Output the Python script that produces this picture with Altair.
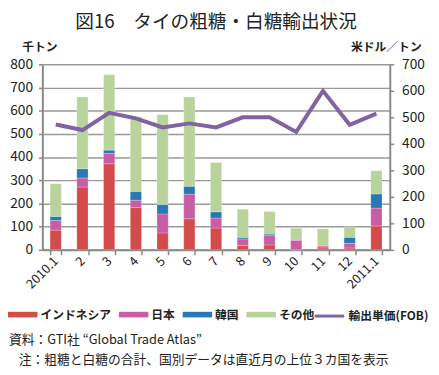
import altair as alt
import pandas as pd

months = ["2010.1", "2", "3", "4", "5", "6", "7", "8", "9", "10", "11", "12", "2011.1"]
indonesia = [85, 271, 371, 183, 73, 134, 94, 18, 21, 0, 8, 8, 103]
japan = [42, 39, 45, 31, 82, 106, 43, 29, 42, 42, 9, 20, 77]
korea = [17, 40, 14, 38, 40, 34, 27, 7, 5, 0, 0, 26, 61]
others = [141, 309, 325, 322, 388, 385, 213, 121, 97, 51, 73, 45, 100]
price = [473, 452, 517, 496, 462, 477, 462, 500, 500, 445, 600, 472, 514]

series_names = ["インドネシア", "日本", "韓国", "その他"]
series_colors = ["#d34b4b", "#c95ca5", "#2878b5", "#b8d49a"]
line_name = "輸出単価(FOB)"
line_color = "#8064a2"
note_source = "資料：GTI社 “Global Trade Atlas”"
note_remark = "注：粗糖と白糖の合計、国別データは直近月の上位３カ国を表示"

rows = []
for i, m in enumerate(months):
    for k, (name, vals) in enumerate(zip(series_names, [indonesia, japan, korea, others])):
        rows.append({"month": m, "series": name, "value": vals[i], "ord": k})
bars_df = pd.DataFrame(rows)
line_df = pd.DataFrame({"month": months, "price": price, "series": [line_name] * len(months)})

FONT = "Noto Sans CJK JP"
rect_path = "M-1,-0.19H1V0.19H-1Z"

x_enc = alt.X("month:N", sort=months, title=None,
              scale=alt.Scale(paddingInner=0.58, paddingOuter=0.29),
              axis=alt.Axis(labelAngle=-45, labelAlign="right", labelBaseline="middle",
                            labelFontSize=13, labelColor="#222", labelFont=FONT,
                            tickBand="extent", tickSize=5, tickColor="#888", tickWidth=1.5,
                            domainColor="#888", domainWidth=2, labelPadding=4))

bars = alt.Chart(bars_df).mark_bar(stroke="white", strokeWidth=0.4, strokeOpacity=0.6).encode(
    x=x_enc,
    y=alt.Y("value:Q", stack="zero",
            scale=alt.Scale(domain=[0, 800], nice=False),
            axis=alt.Axis(values=list(range(0, 801, 100)), title="千トン", titleAngle=0,
                          titleX=-3, titleY=-18, titleAlign="center", titleBaseline="middle",
                          titleFontSize=12, titleFontWeight="bold", titleFont=FONT, titleColor="#222",
                          labelFontSize=14, labelColor="#222", labelPadding=6, labelFont=FONT,
                          grid=True, gridColor="#999", gridWidth=1.5,
                          tickSize=4, tickColor="#888", tickWidth=1.5,
                          domainColor="#888", domainWidth=2)),
    color=alt.Color("series:N", scale=alt.Scale(domain=series_names, range=series_colors),
                    legend=alt.Legend(orient="none", legendX=-35, legendY=240, direction="horizontal",
                                      columns=4, title=None, symbolType=rect_path, symbolSize=900,
                                      symbolStrokeWidth=0, labelFontSize=12, labelFontWeight="bold",
                                      labelFont=FONT, labelColor="#222", columnPadding=7,
                                      labelOffset=3)),
    order=alt.Order("ord:Q"),
)

line = alt.Chart(line_df).mark_line(strokeWidth=4).encode(
    x=alt.X("month:N", sort=months),
    y=alt.Y("price:Q", scale=alt.Scale(domain=[0, 700], nice=False),
            axis=alt.Axis(orient="right", values=list(range(0, 701, 100)), title="米ドル／トン",
                          titleAngle=0, titleX=-4, titleY=-18, titleAlign="center",
                          titleBaseline="middle", titleFontSize=12, titleFontWeight="bold",
                          titleFont=FONT, titleColor="#222",
                          labelFontSize=14, labelColor="#222", labelPadding=8, labelFont=FONT,
                          grid=False, tickSize=4, tickColor="#888", tickWidth=1.5,
                          domainColor="#888", domainWidth=2)),
    stroke=alt.Stroke("series:N", scale=alt.Scale(domain=[line_name], range=[line_color]),
                      legend=alt.Legend(orient="none", legendX=276, legendY=240, title=None,
                                        symbolType="stroke", symbolSize=900, symbolStrokeWidth=3,
                                        labelFontSize=12, labelFontWeight="bold", labelFont=FONT,
                                        labelColor="#222", labelOffset=3)),
)

note1 = alt.Chart(pd.DataFrame({"t": [note_source]})).mark_text(
    align="left", baseline="middle", fontSize=13, font=FONT, color="#222").encode(
    x=alt.value(-34), y=alt.value(281), text="t:N")
note2 = alt.Chart(pd.DataFrame({"t": [note_remark]})).mark_text(
    align="left", baseline="middle", fontSize=13, font=FONT, color="#222").encode(
    x=alt.value(-24), y=alt.value(301), text="t:N")

chart = alt.layer(bars, line, note1, note2).resolve_scale(
    y="independent", color="independent", stroke="independent").properties(
    width=354, height=189,
    title=alt.TitleParams("図16　タイの粗糖・白糖輸出状況", fontSize=19, font=FONT,
                          fontWeight="normal", color="#222", anchor="middle", offset=9),
    autosize=alt.AutoSizeParams(type="none"),
    padding={"left": 35, "top": 54, "right": 42, "bottom": 116},
).configure_view(stroke=None)

chart.save("out.html", embed_options={"renderer": "svg", "actions": False})
